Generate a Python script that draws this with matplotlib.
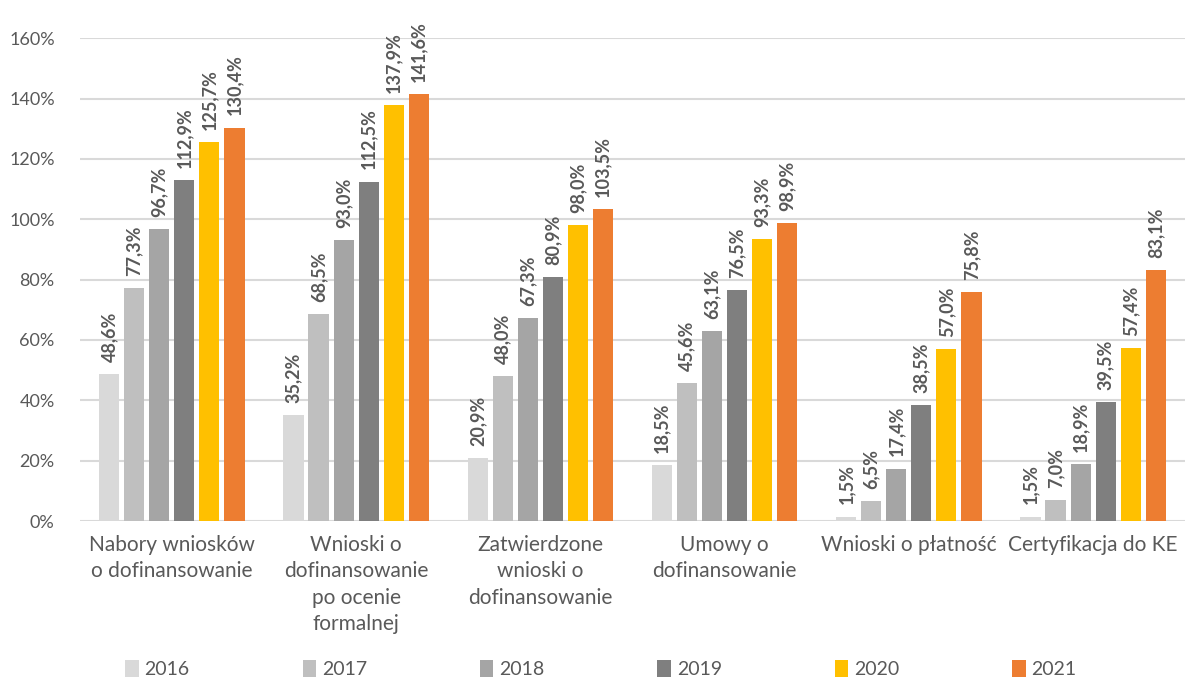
import matplotlib.pyplot as plt
import numpy as np

# Chart data
categories = ['Nabory wniosków\no dofinansowanie',
              'Wnioski o\ndofinansowanie\npo ocenie\nformalnej',
              'Zatwierdzone\nwnioski o\ndofinansowanie',
              'Umowy o\ndofinansowanie',
              'Wnioski o płatność',
              'Certyfikacja do KE']
years = ['2016', '2017', '2018', '2019', '2020', '2021']
v2016 = [48.6, 35.2, 20.9, 18.5, 1.5, 1.5]
v2017 = [77.3, 68.5, 48.0, 45.6, 6.5, 7.0]
v2018 = [96.7, 93.0, 67.3, 63.1, 17.4, 18.9]
v2019 = [112.9, 112.5, 80.9, 76.5, 38.5, 39.5]
v2020 = [125.7, 137.9, 98.0, 93.3, 57.0, 57.4]
v2021 = [130.4, 141.6, 103.5, 98.9, 75.8, 83.1]
series = [v2016, v2017, v2018, v2019, v2020, v2021]
colors = ['#D9D9D9', '#BFBFBF', '#A5A5A5', '#7F7F7F', '#FFC000', '#ED7D31']

text_color = '#595959'
plt.rcParams['font.family'] = ['Lato', 'DejaVu Sans']

fig = plt.figure(figsize=(11.9, 6.82), dpi=100)
ax = fig.add_axes([0.067, 0.236, 0.929, 0.708])

x = np.arange(len(categories))
width = 0.109
step = 0.136

for i, (vals, year, col) in enumerate(zip(series, years, colors)):
    pos = x + (i - 2.5) * step
    ax.bar(pos, vals, width=width, color=col, label=year, zorder=3)
    for px, v in zip(pos, vals):
        ax.text(px, v + 4, f'{v:.1f}%'.replace('.', ','), rotation=90,
                ha='center', va='bottom', fontsize=13, fontweight='bold',
                color=text_color)

ax.set_ylim(0, 160)
ax.set_xlim(-0.5, len(categories) - 0.5)
ax.set_yticks(np.arange(0, 161, 20))
ax.set_yticklabels([f'{t}%' for t in range(0, 161, 20)])
ax.set_xticks(x)
ax.set_xticklabels(categories, fontsize=15, color=text_color, linespacing=1.4)
ax.tick_params(axis='y', labelsize=13, colors=text_color, length=0, pad=18)
ax.tick_params(axis='x', length=0, pad=10)
ax.yaxis.grid(True, color='#D9D9D9', linewidth=1.5, zorder=0)
for s in ax.spines.values():
    s.set_visible(False)

fig.legend(loc='lower center', bbox_to_anchor=(0.505, -0.02), ncol=6,
           frameon=False, fontsize=14, labelcolor=text_color,
           handlelength=0.7, handleheight=0.9, handletextpad=0.3,
           columnspacing=5.8)

fig.savefig('out.png', dpi=100)
